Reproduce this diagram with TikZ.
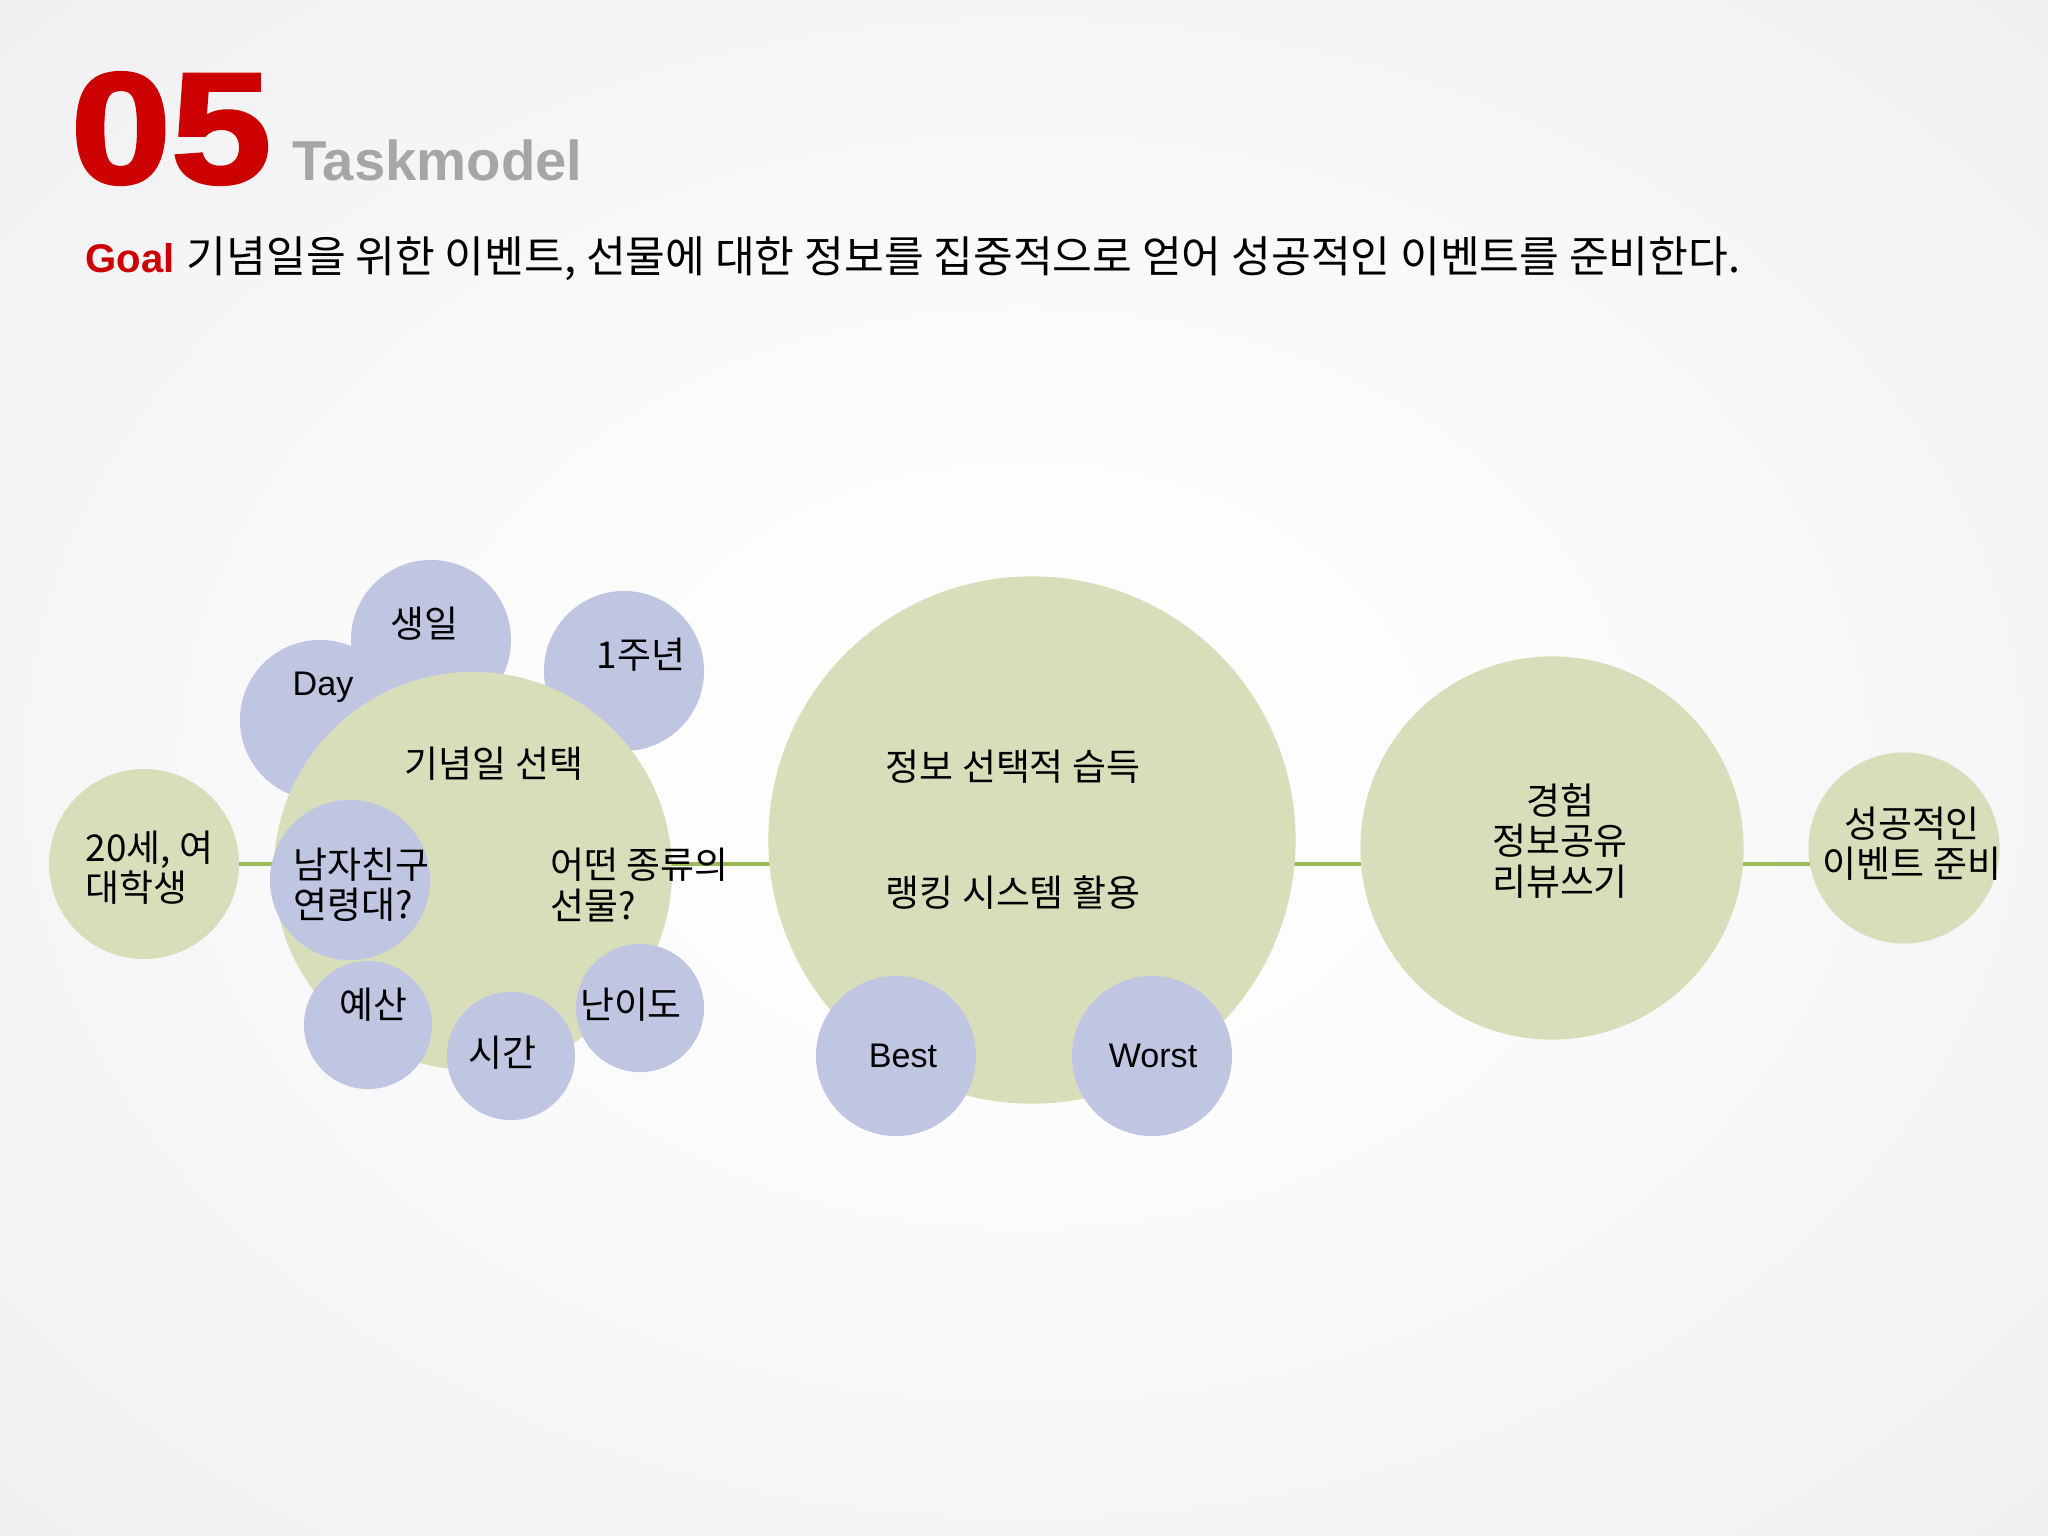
\documentclass[tikz,border=0pt]{standalone}
\usepackage{fontspec}
\usepackage{graphicx}
\setmainfont{Liberation Sans}
\newfontfamily\kr{Noto Sans CJK KR}
\newfontfamily\heavy{Liberation Sans Bold}[FakeBold=2]
\usetikzlibrary{backgrounds}

\definecolor{titlered}{RGB}{204,0,0}
\definecolor{titlegray}{RGB}{166,166,166}
\definecolor{bubblegreen}{RGB}{216,222,186}
\definecolor{bubbleblue}{RGB}{192,198,226}
\definecolor{linkgreen}{RGB}{155,187,89}
\definecolor{bgin}{RGB}{252,252,253}
\definecolor{bgmid}{RGB}{240,240,242}
\definecolor{bgout}{RGB}{233,233,236}
\definecolor{bgedge}{RGB}{226,226,229}

\pgfdeclareradialshading{slidebg}{\pgfpoint{0bp}{0bp}}{color(0bp)=(white); color(12bp)=(bgin); color(35bp)=(bgmid); color(50bp)=(bgout); color(72bp)=(bgedge)}

\tikzset{
  bubble/.style={circle, fill=bubblegreen, inner sep=0pt},
  subbubble/.style={circle, fill=bubbleblue, inner sep=0pt},
  txt/.style={font=\kr\fontsize{10.5}{11.4}\selectfont, inner sep=0pt, align=center},
  ltxt/.style={txt, align=left, anchor=west},
  latin/.style={txt, font=\fontsize{9.7}{11.4}\selectfont},
  link/.style={draw=linkgreen, line width=0.9pt},
}

\begin{document}
\begin{tikzpicture}[x=0.01cm, y=-0.01cm]
\useasboundingbox (0,0) rectangle (2048,1536);

% Title
\node[anchor=base west, inner sep=0pt, text=titlered] (num) at (70,183) {\heavy\fontsize{45}{45}\selectfont\scalebox{1.14}[1]{05}};
\node[anchor=base west, inner sep=0pt, text=titlegray, font=\bfseries\fontsize{16}{16}\selectfont] (title) at (292,180) {Taskmodel};
\node[anchor=base west, inner sep=0pt, font=\fontsize{12.3}{14}\selectfont] (goal) at (85,272) {\textcolor{titlered}{\fontsize{11.4}{14}\selectfont\bfseries Goal} {\kr 기념일을 위한 이벤트, 선물에 대한 정보를 집중적으로 얻어 성공적인 이벤트를 준비한다.}};

% User
\node[bubble, minimum size=1.9cm] (age) at (144,864) {};
\node[ltxt] (age-t) at (85,868) {20세, 여\\대학생};

% Anniversary choice: days behind, conditions on top
\node[subbubble, minimum size=1.6cm] (bday) at (431,640) {};
\node[subbubble, minimum size=1.6cm] (day) at (320,720) {};
\node[subbubble, minimum size=1.6cm] (anniv) at (624,671) {};
\node[bubble, minimum size=3.98cm] (choice) at (473,871) {};
\node[subbubble, minimum size=1.6cm] (boyf) at (350,880) {};
\node[subbubble, minimum size=1.28cm] (budget) at (368,1025) {};
\node[subbubble, minimum size=1.28cm] (time) at (511,1056) {};
\node[subbubble, minimum size=1.28cm] (level) at (640,1008) {};

\node[txt] (bday-t) at (424,624) {생일};
\node[latin] (day-t) at (323,687) {Day};
\node[txt] (anniv-t) at (641,655) {1주년};
\node[txt] (choice-t) at (494,764) {기념일 선택};
\node[ltxt] (boyf-t) at (293,885) {남자친구\\연령대?};
\node[ltxt] (gift-t) at (550,885) {어떤 종류의\\선물?};
\node[txt] (budget-t) at (373,1005) {예산};
\node[txt] (time-t) at (502,1053) {시간};
\node[txt] (level-t) at (631,1005) {난이도};

% Information
\node[bubble, minimum size=5.27cm] (info) at (1032,840) {};
\node[subbubble, minimum size=1.6cm] (best) at (896,1056) {};
\node[subbubble, minimum size=1.6cm] (worst) at (1152,1056) {};
\node[txt] (info-t) at (1013,767) {정보 선택적 습득};
\node[txt] (rank-t) at (1013,893) {랭킹 시스템 활용};
\node[latin] (best-t) at (903,1056) {Best};
\node[latin] (worst-t) at (1153,1056) {Worst};

% Sharing and result
\node[bubble, minimum size=3.83cm] (share) at (1552,848) {};
\node[txt] (share-t) at (1560,841) {경험\\정보공유\\리뷰쓰기};
\node[bubble, minimum size=1.91cm] (done) at (1904,848) {};
\node[txt] (done-t) at (1912,844) {성공적인\\이벤트 준비};

% Background and spine
\begin{scope}[on background layer]
\shade[shading=slidebg] (0,0) rectangle (2048,1536);
\coordinate (spine) at (0,864);
\foreach \a/\b in {age/choice, choice/info, info/share, share/done}
  \draw[link] (\a |- spine) -- (\b |- spine);
\end{scope}

\end{tikzpicture}
\end{document}
